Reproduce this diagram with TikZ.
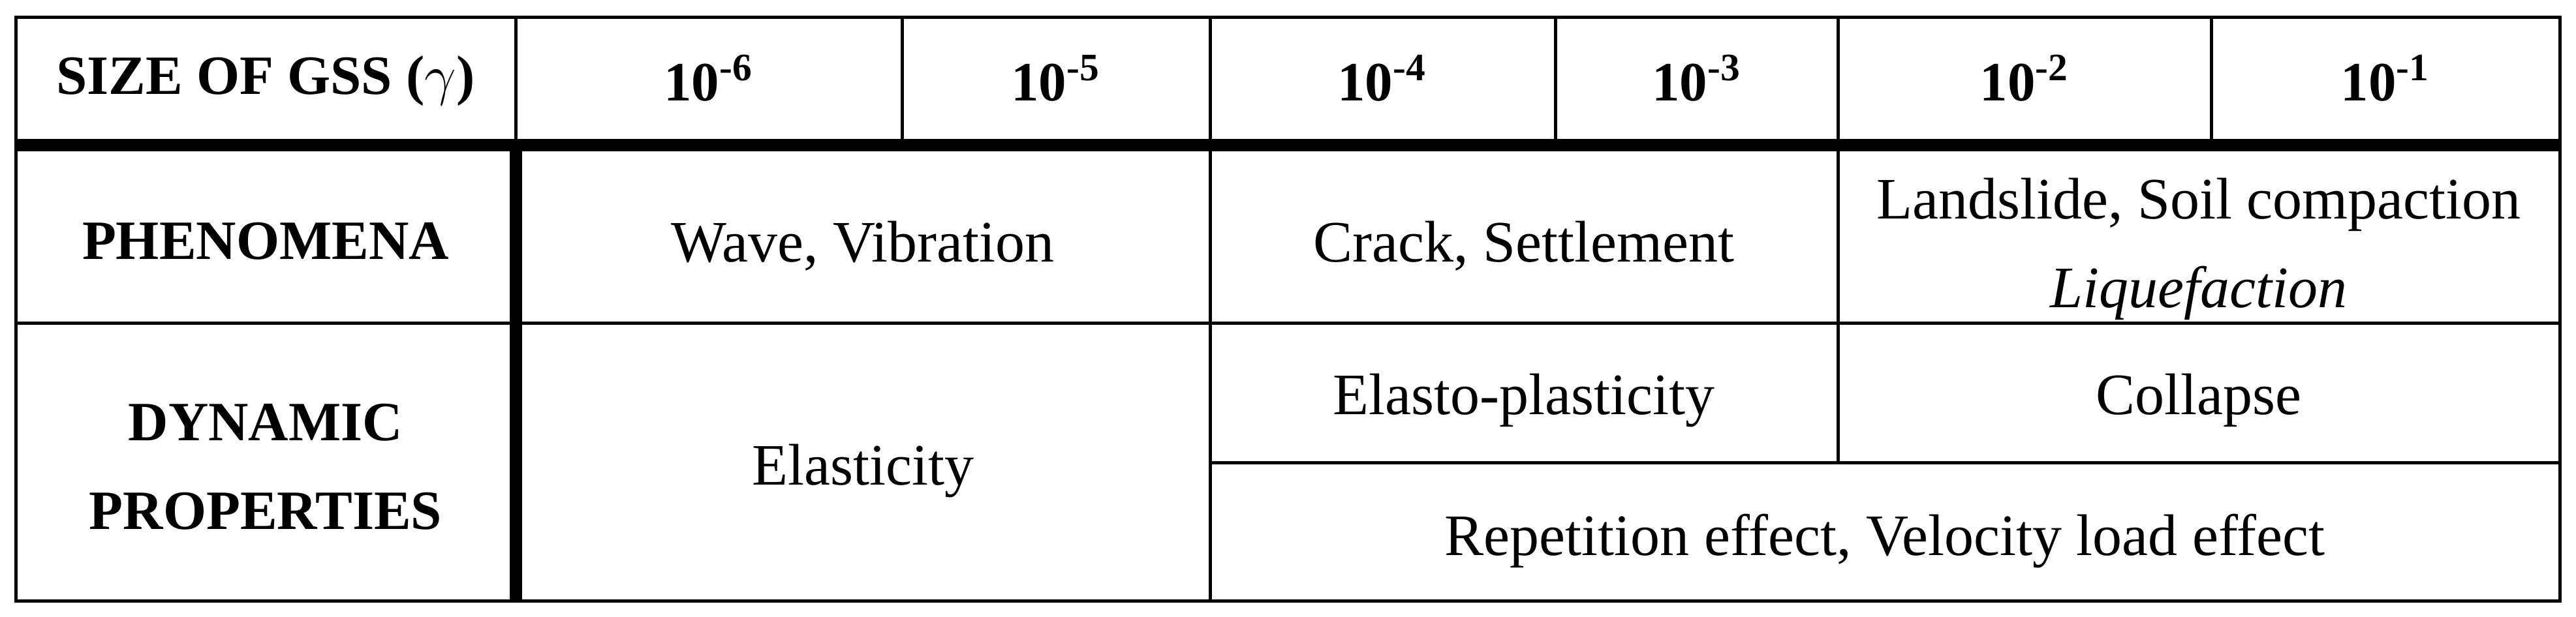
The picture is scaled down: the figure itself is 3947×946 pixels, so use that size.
\documentclass[tikz,border=0pt]{standalone}
\usepackage{fontspec}
\setmainfont{Liberation Serif}
\begin{document}
\begin{tikzpicture}[x=0.2pt,y=-0.2pt,
  thinline/.style={line width=1pt},
  thickline/.style={line width=3.8pt},
  hdr/.style={font=\fontsize{17}{27.2}\selectfont\bfseries, align=center, inner sep=0pt},
  cell/.style={font=\fontsize{18}{27.2}\selectfont, align=center, inner sep=0pt}]
\useasboundingbox (0,0) rectangle (3947,946);
% grid
\draw[thinline] (24.5,26.5) rectangle (3922.5,921.5);
\foreach \x in {790,1382,1854,2383,2816,3388}
  \draw[thinline] (\x,26.5) -- (\x,222);
\draw[thinline] (24.5,495) -- (3922.5,495);
\draw[thinline] (1854,222) -- (1854,921.5);
\draw[thinline] (2816,222) -- (2816,709);
\draw[thinline] (1854,709) -- (3922.5,709);
\draw[thickline] (24.5,222) -- (3922.5,222);
\draw[thickline] (790,222) -- (790,921.5);
% header row
\node[hdr] (size) at (407,124) {SIZE OF GSS ($\gamma$)};
\node[hdr] (e6) at (1086,120) {10\textsuperscript{-6}};
\node[hdr] (e5) at (1618,120) {10\textsuperscript{-5}};
\node[hdr] (e4) at (2118,120) {10\textsuperscript{-4}};
\node[hdr] (e3) at (2600,120) {10\textsuperscript{-3}};
\node[hdr] (e2) at (3102,120) {10\textsuperscript{-2}};
\node[hdr] (e1) at (3655,120) {10\textsuperscript{-1}};
% phenomena row
\node[hdr] (phen) at (407,370) {PHENOMENA};
\node[cell] (wave) at (1322,377) {Wave, Vibration};
\node[cell] (crack) at (2335,377) {Crack, Settlement};
\node[cell] (land) at (3369,382) {Landslide, Soil compaction\\\textit{Liquefaction}};
% dynamic properties row
\node[hdr] (dyn) at (407,716) {DYNAMIC\\PROPERTIES};
\node[cell] (elast) at (1322,722) {Elasticity};
\node[cell] (elpl) at (2335,614) {Elasto-plasticity};
\node[cell] (coll) at (3369,614) {Collapse};
\node[cell] (rep) at (2888,830) {Repetition effect, Velocity load effect};
\end{tikzpicture}
\end{document}
